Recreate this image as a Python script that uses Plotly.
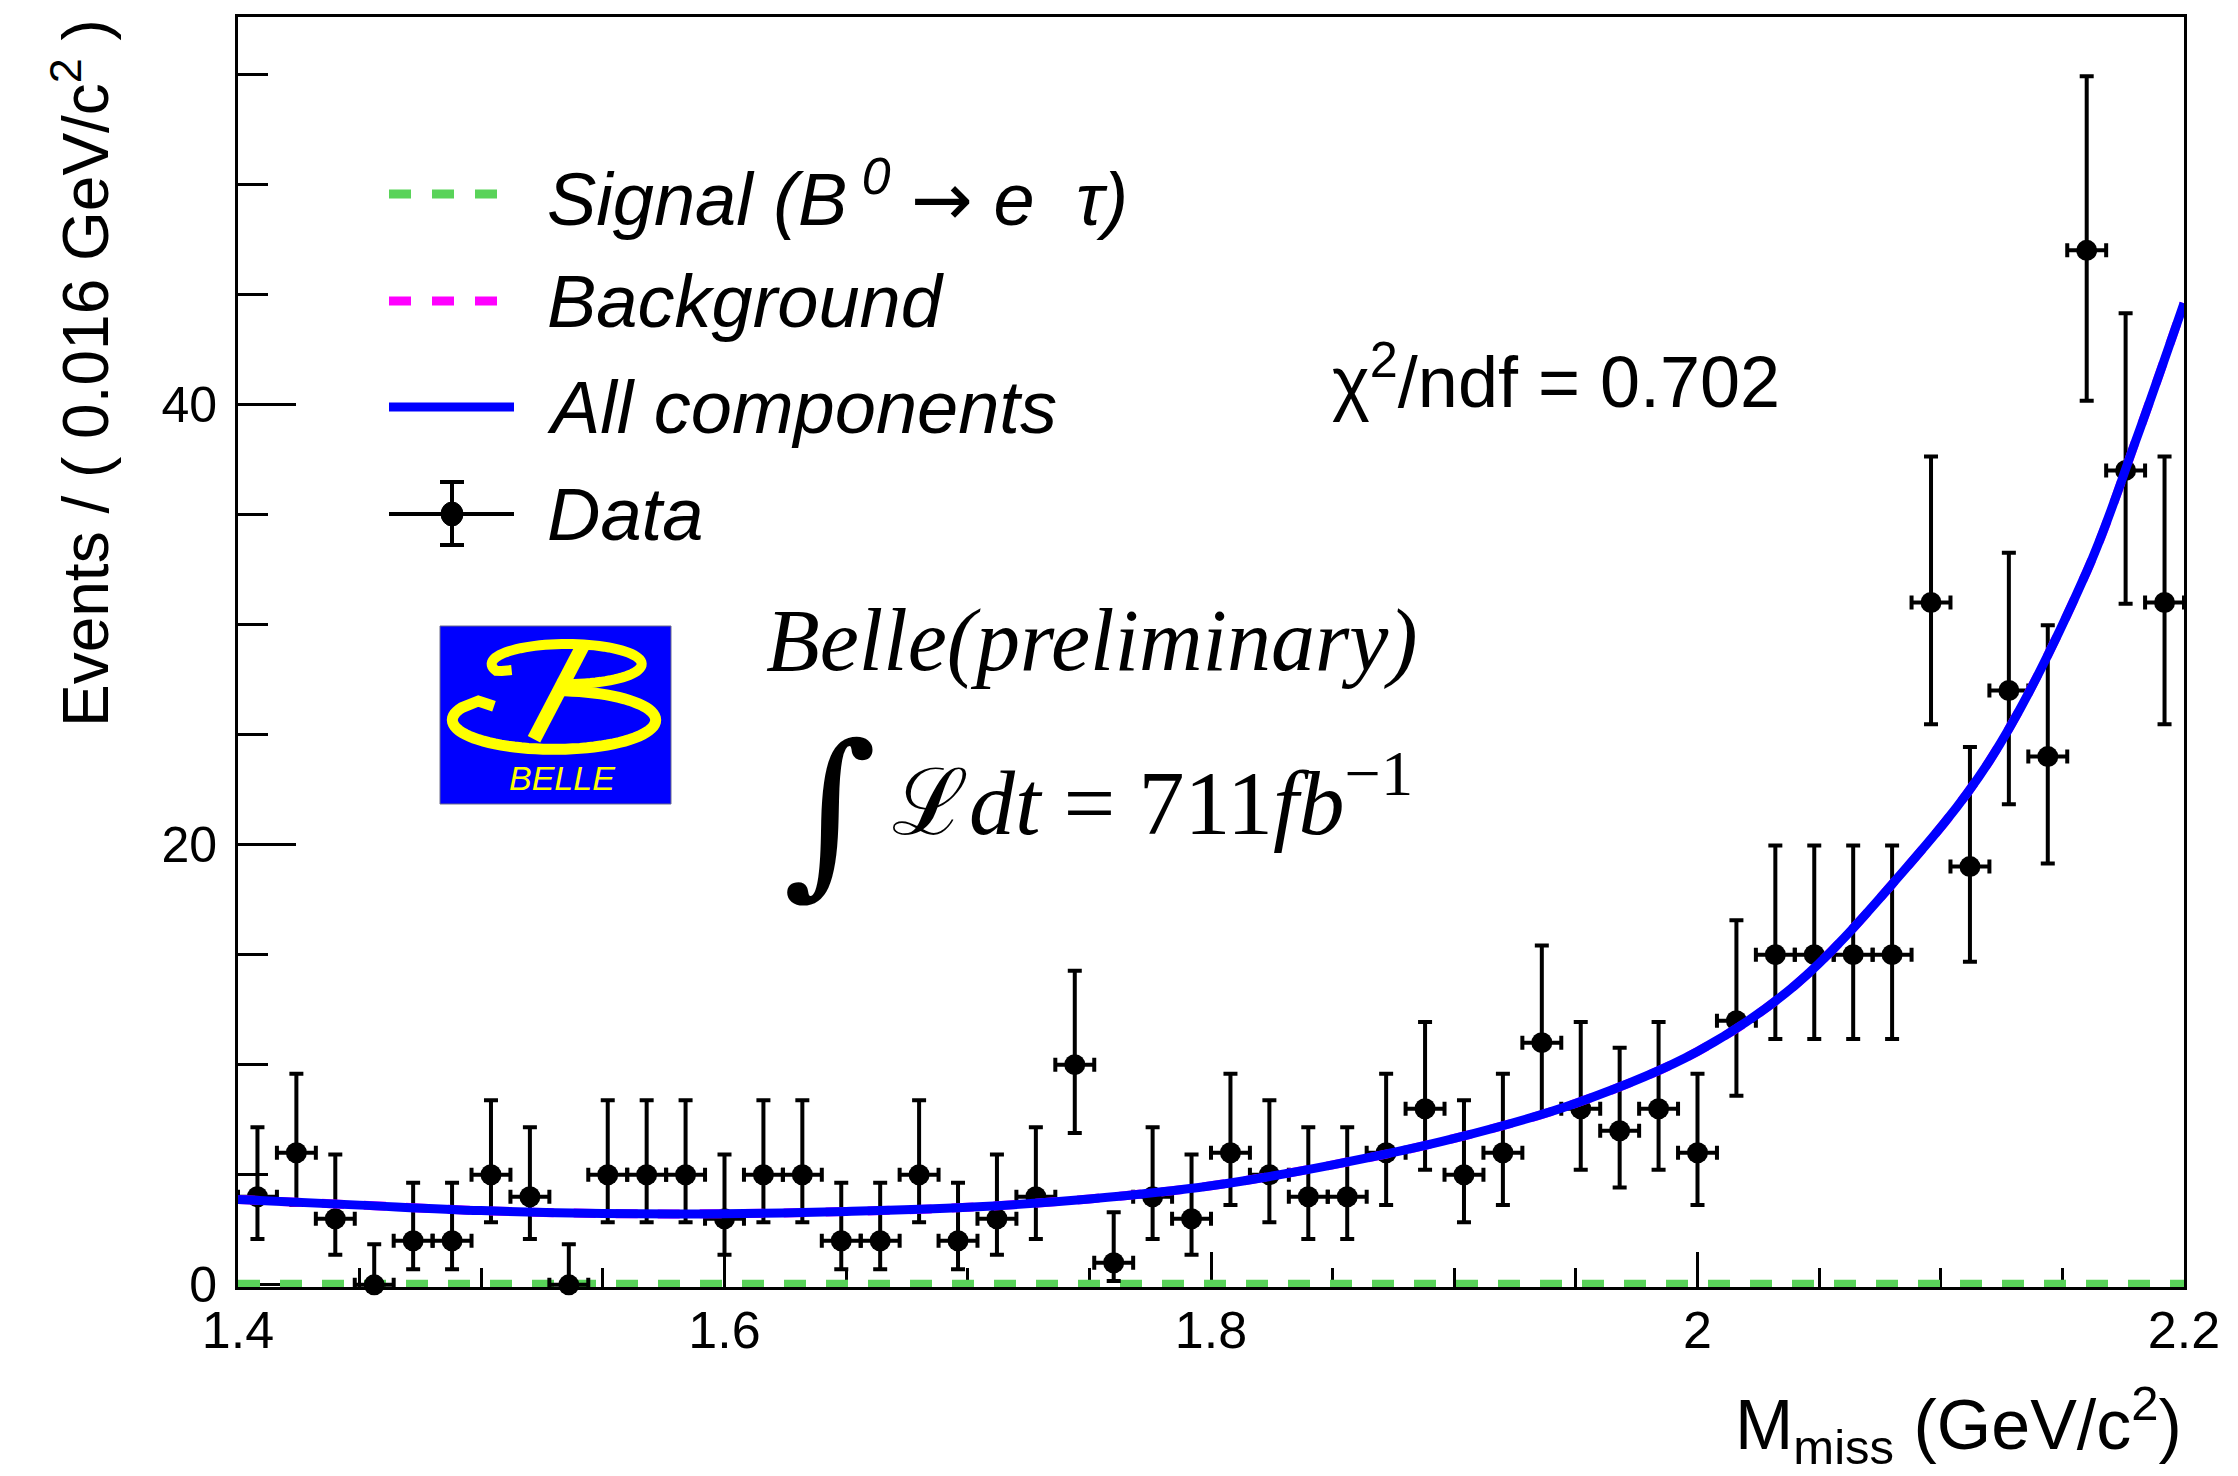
import math
import plotly.graph_objects as go

# ---------------- data ----------------
bin_centers = [1.408, 1.424, 1.440, 1.456, 1.472, 1.488, 1.504, 1.520, 1.536, 1.552,
               1.568, 1.584, 1.600, 1.616, 1.632, 1.648, 1.664, 1.680, 1.696, 1.712,
               1.728, 1.744, 1.760, 1.776, 1.792, 1.808, 1.824, 1.840, 1.856, 1.872,
               1.888, 1.904, 1.920, 1.936, 1.952, 1.968, 1.984, 2.000, 2.016, 2.032,
               2.048, 2.064, 2.080, 2.096, 2.112, 2.128, 2.144, 2.160, 2.176, 2.192]
counts = [4, 6, 3, 0, 2, 2, 5, 4, 0, 5,
          5, 5, 3, 5, 5, 2, 2, 5, 2, 3,
          4, 10, 1, 4, 3, 6, 5, 4, 4, 6,
          8, 5, 6, 11, 8, 7, 8, 6, 12, 15,
          15, 15, 15, 31, 19, 27, 24, 47, 37, 31]
bin_half_width = 0.008

fit_x = [1.40, 1.45, 1.50, 1.55, 1.60, 1.65, 1.70, 1.75, 1.80, 1.85,
         1.90, 1.95, 2.00, 2.04, 2.08, 2.12, 2.16, 2.18, 2.20]
fit_total = [3.88, 3.62, 3.37, 3.24, 3.23, 3.33, 3.52, 3.90, 4.50, 5.45,
             6.65, 8.25, 10.6, 13.6, 18.2, 23.8, 32.4, 38.3, 44.6]
fit_background = [3.88, 3.62, 3.37, 3.24, 3.23, 3.33, 3.52, 3.90, 4.50, 5.45,
                  6.65, 8.25, 10.6, 13.6, 18.2, 23.8, 32.4, 38.3, 44.6]
fit_signal = [0.0] * len(fit_x)

x_ticks = [1.4, 1.6, 1.8, 2.0, 2.2]
x_tick_labels = ["1.4", "1.6", "1.8", "2", "2.2"]
y_ticks = [0, 20, 40]
y_tick_labels = ["0", "20", "40"]

ARROW = '<span style="font-family:DejaVu Sans">\u2192</span>'
legend_labels = ["<i>Signal (B<sup>\u00a00</sup> " + ARROW + " e \u00a0\u03c4)</i>", "<i>Background</i>",
                 "<i>All components</i>", "<i>Data</i>"]
chi2_text = "\u03c7<sup>2</sup>/ndf = 0.702"

# ---------------- Poisson (Garwood) 68% intervals for data ----------------
ALPHA = 0.158655


def pois_cdf(k, mu):
    if k < 0:
        return 0.0
    term = math.exp(-mu)
    s = term
    for i in range(1, k + 1):
        term *= mu / i
        s += term
    return s


def bisect_decreasing(f, lo, hi, it=80):
    # f is decreasing in its argument; find root
    for _ in range(it):
        mid = 0.5 * (lo + hi)
        if f(mid) > 0:
            lo = mid
        else:
            hi = mid
    return 0.5 * (lo + hi)


err_hi, err_lo = [], []
for n in counts:
    up = bisect_decreasing(lambda m: pois_cdf(n, m) - ALPHA, n, n + 10 * math.sqrt(n + 1) + 5)
    lo = 0.0 if n == 0 else bisect_decreasing(lambda m: pois_cdf(n - 1, m) - (1 - ALPHA), 0, n)
    err_hi.append(up - n)
    err_lo.append(n - lo)

# ---------------- layout geometry ----------------
W, H = 2238, 1476
L, R, T, B = 238, 2184, 17, 1287
PW, PH = R - L, B - T
Y_MIN, Y_MAX = -0.1, 57.6


def px(X):
    return (X - L) / PW


def py(Y):
    return (B - Y) / PH


SANS = "Liberation Sans, Arial, Helvetica, sans-serif"
SERIF = "Liberation Serif, Times New Roman, DejaVu Serif, serif"
GREEN = "#59d359"
MAGENTA = "#ff00ff"
BLUE = "#0000ff"

fig = go.Figure()

fig.add_trace(go.Scatter(x=fit_x, y=fit_signal, mode="lines", line=dict(color=GREEN, width=10, dash="22px,20px"),
                         cliponaxis=False, showlegend=False, hoverinfo="skip"))
fig.add_trace(go.Scatter(
    x=bin_centers, y=counts, mode="markers",
    marker=dict(color="black", size=21, symbol="circle"),
    error_y=dict(type="data", symmetric=False, array=err_hi, arrayminus=err_lo,
                 color="black", thickness=4, width=7),
    error_x=dict(type="constant", value=bin_half_width, color="black", thickness=4, width=7),
    cliponaxis=False, showlegend=False))
fig.add_trace(go.Scatter(x=fit_x, y=fit_background, mode="lines",
                         line=dict(color=MAGENTA, width=9, dash="22px,20px", shape="spline"),
                         showlegend=False, hoverinfo="skip"))
fig.add_trace(go.Scatter(x=fit_x, y=fit_total, mode="lines", line=dict(color=BLUE, width=9, shape="spline"),
                         showlegend=False, cliponaxis=False))

shapes = []
annotations = []

# ---------------- manual legend ----------------
rows_y = [194, 301, 407, 514]
shapes.append(dict(type="line", xref="paper", yref="paper", x0=px(389), x1=px(497), y0=py(rows_y[0]), y1=py(rows_y[0]),
                   line=dict(color=GREEN, width=9, dash="22px,21px")))
shapes.append(dict(type="line", xref="paper", yref="paper", x0=px(389), x1=px(497), y0=py(rows_y[1]), y1=py(rows_y[1]),
                   line=dict(color=MAGENTA, width=9, dash="22px,21px")))
shapes.append(dict(type="line", xref="paper", yref="paper", x0=px(389), x1=px(514), y0=py(rows_y[2]), y1=py(rows_y[2]),
                   line=dict(color=BLUE, width=9)))
# data glyph
shapes.append(dict(type="line", xref="paper", yref="paper", x0=px(389), x1=px(514), y0=py(rows_y[3]), y1=py(rows_y[3]),
                   line=dict(color="black", width=4)))
shapes.append(dict(type="line", xref="paper", yref="paper", x0=px(452), x1=px(452), y0=py(482), y1=py(545),
                   line=dict(color="black", width=4)))
for yy in (482, 545):
    shapes.append(dict(type="line", xref="paper", yref="paper", x0=px(440), x1=px(464), y0=py(yy), y1=py(yy),
                       line=dict(color="black", width=4)))
shapes.append(dict(type="circle", xref="paper", yref="paper", x0=px(441), x1=px(463), y0=py(502), y1=py(526),
                   fillcolor="black", line=dict(color="black", width=1)))

for lab, yy in zip(legend_labels, rows_y):
    annotations.append(dict(text=lab, xref="paper", yref="paper", x=px(545), y=py(yy), xanchor="left", yanchor="middle",
                            showarrow=False, font=dict(family=SANS, size=74, color="black")))

annotations.append(dict(text=chi2_text, xref="paper", yref="paper", x=px(1330), y=py(376), xanchor="left", yanchor="middle",
                        showarrow=False, font=dict(family=SANS, size=72, color="black")))

# Belle text
annotations.append(dict(text="<i>Belle(preliminary)</i>", xref="paper", yref="paper", x=px(764), y=py(640),
                        xanchor="left", yanchor="middle", showarrow=False,
                        font=dict(family=SERIF, size=88, color="black")))
annotations.append(dict(text="\u222b", xref="paper", yref="paper", x=px(830), y=py(810),
                        xanchor="center", yanchor="middle", showarrow=False,
                        font=dict(family="DejaVu Serif, serif", size=180, color="black")))
annotations.append(dict(text="\u2112<i>dt</i> = 711<i>fb</i><sup>\u22121</sup>", xref="paper", yref="paper",
                        x=px(890), y=py(796), xanchor="left", yanchor="middle", showarrow=False,
                        font=dict(family=SERIF, size=92, color="black")))

# ---------------- Belle logo ----------------
LX0, LY0 = 430, 610  # logo local units are 1/3 px from this origin


def lp(pts):
    return [(px(LX0 + x / 3.0), py(LY0 + y / 3.0)) for x, y in pts]


def arc(cx, cy, a, b, t0, t1, n=70):
    out = []
    for i in range(n + 1):
        t = math.radians(t0 + (t1 - t0) * i / n)
        out.append((cx + a * math.cos(t), cy + b * math.sin(t)))
    return out


def path_of(pts):
    return "M " + " L ".join(f"{x:.5f},{y:.5f}" for x, y in pts)


shapes.append(dict(type="rect", xref="paper", yref="paper", x0=px(440), x1=px(671), y0=py(626), y1=py(804),
                   fillcolor="#0000fe", line=dict(color="#6d6d8a", width=1), layer="above"))
upper = [(245, 180), (215, 183)] + arc(410, 162, 225, 60, 160, 457)
lower = [(192, 289), (145, 273)] + arc(372, 330, 305, 88, 205, -88)
stem = [(458, 108), (312, 388)]
for pts, w in ((upper, 10), (lower, 11), (stem, 14)):
    shapes.append(dict(type="path", xref="paper", yref="paper", path=path_of(lp(pts)),
                       line=dict(color="#ffff00", width=w), layer="above"))
annotations.append(dict(text="<i>BELLE</i>", xref="paper", yref="paper", x=px(562), y=py(778),
                        xanchor="center", yanchor="middle", showarrow=False,
                        font=dict(family=SANS, size=34, color="#ffff00")))

# ---------------- axis titles ----------------
annotations.append(dict(text="M<sub>miss</sub> (GeV/c<sup>2</sup>)", xref="paper", yref="paper", x=1.0, y=py(1425),
                        xanchor="right", yanchor="middle", showarrow=False,
                        font=dict(family=SANS, size=70, color="black")))
annotations.append(dict(text="Events / ( 0.016 GeV/c<sup>2</sup> )", xref="paper", yref="paper", x=px(81), y=1.0,
                        xanchor="center", yanchor="top", textangle=-90, showarrow=False,
                        font=dict(family=SANS, size=64, color="black")))

fig.update_layout(
    width=W, height=H,
    margin=dict(l=L, r=W - R, t=T, b=H - B),
    paper_bgcolor="white", plot_bgcolor="white",
    shapes=shapes, annotations=annotations, showlegend=False,
    xaxis=dict(range=[1.4, 2.2], tickmode="array", tickvals=x_ticks, ticktext=x_tick_labels,
               ticks="inside", ticklen=35, tickwidth=3, tickcolor="black",
               minor=dict(ticks="inside", ticklen=19, tickwidth=3, dtick=0.05, tick0=1.4, tickcolor="black", showgrid=False),
               showline=True, linewidth=3, linecolor="black", mirror=True, showgrid=False, zeroline=False,
               tickfont=dict(family=SANS, size=52, color="black"), ticklabelstandoff=-4, layer="below traces"),
    yaxis=dict(range=[Y_MIN, Y_MAX], tickmode="array", tickvals=y_ticks, ticktext=y_tick_labels,
               ticks="inside", ticklen=58, tickwidth=3, tickcolor="black",
               minor=dict(ticks="inside", ticklen=30, tickwidth=3, dtick=5, tick0=0, tickcolor="black", showgrid=False),
               showline=True, linewidth=3, linecolor="black", mirror=True, showgrid=False, zeroline=False,
               tickfont=dict(family=SANS, size=50, color="black"), ticklabelstandoff=8, layer="below traces"),
)

fig.write_html("out.html")
